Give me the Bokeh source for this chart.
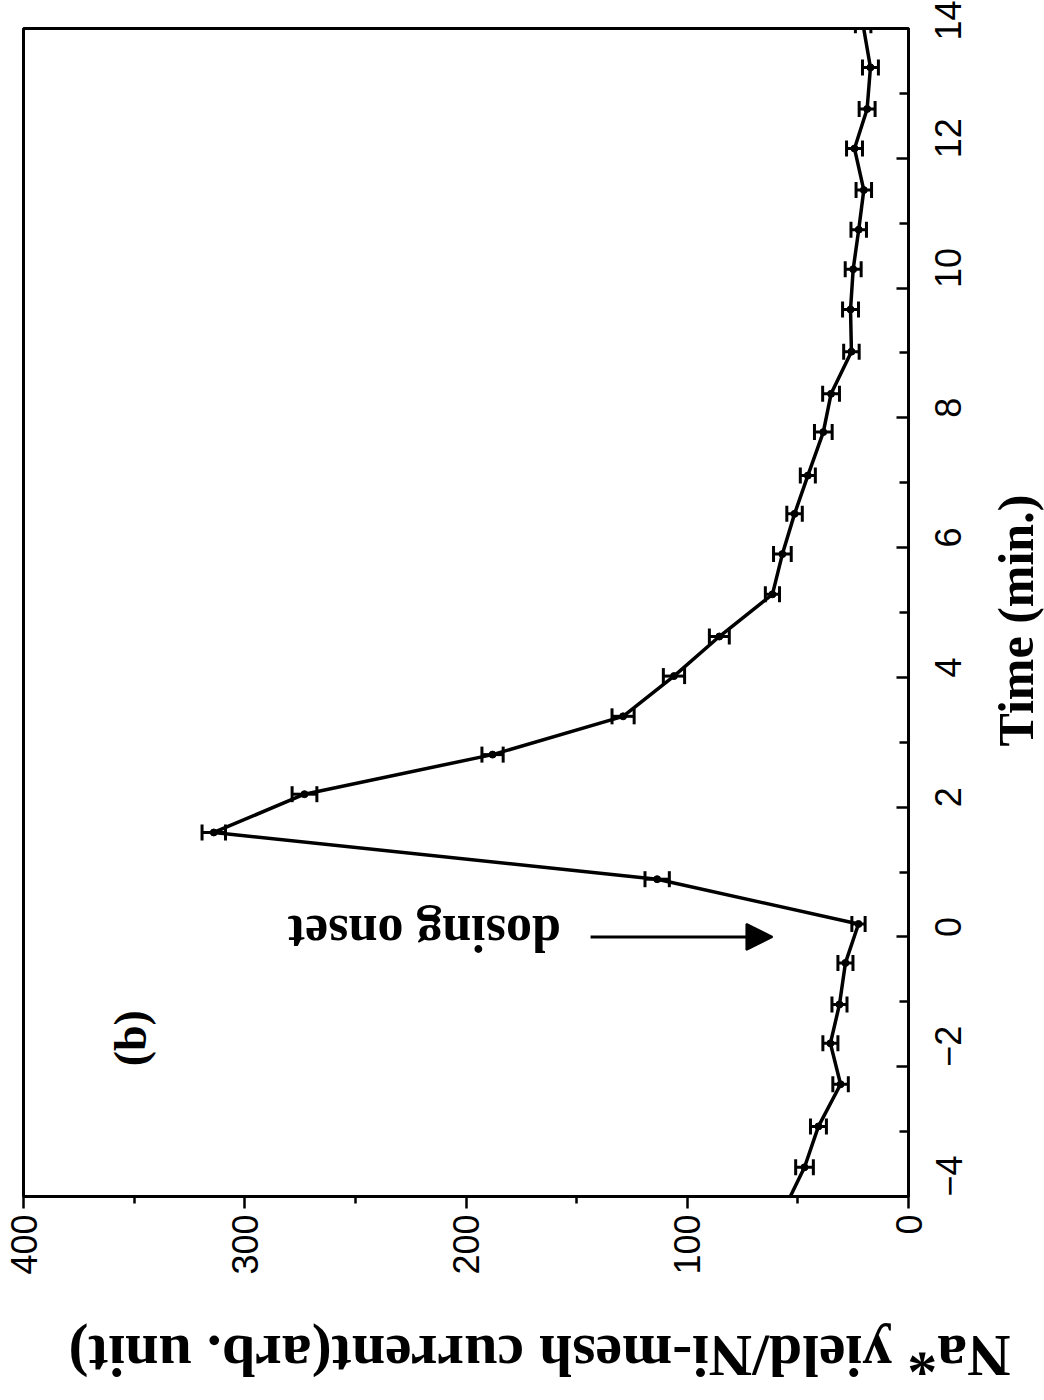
import math
from bokeh.plotting import figure
from bokeh.models import Range1d, FixedTicker, Label, Arrow, NormalHead, ColumnDataSource
from bokeh.embed import file_html
from bokeh.resources import INLINE

# ---- data ----
time_min = [-4.18, -3.55, -2.92, -2.27, -1.64, -1.04, -0.40, 0.20, 0.89, 1.61,
            2.20, 2.81, 3.40, 4.02, 4.63, 5.28, 5.90, 6.52, 7.11, 7.78,
            8.37, 9.02, 9.67, 10.29, 10.90, 11.51, 12.15, 12.76, 13.40, 14.05]
yield_vals = [56.0, 47.0, 40.7, 30.7, 35.3, 31.2, 28.5, 22.6, 113.6, 314.0,
              273.0, 188.0, 129.0, 106.0, 85.5, 61.5, 57.0, 51.5, 45.5, 38.5,
              35.0, 25.8, 26.2, 25.0, 22.5, 20.2, 24.4, 18.7, 17.2, 20.5]
yield_err = [3.0, 4.0, 3.6, 3.5, 3.4, 3.4, 3.4, 3.0, 5.5, 5.3,
             5.6, 4.8, 5.0, 4.8, 4.5, 3.2, 4.0, 3.5, 3.4, 4.0,
             3.8, 3.5, 3.6, 3.6, 3.5, 3.5, 3.6, 3.6, 3.6, 3.5]

value_ticks = [0, 100, 200, 300, 400]
value_minor = [50, 150, 250, 350]
time_ticks = [-4, -2, 0, 2, 4, 6, 8, 10, 12, 14]
time_minor = [-3, -1, 1, 3, 5, 7, 9, 11, 13]

x_title = "Na* yield/Ni-mesh current(arb. unit)"
y_title = "Time (min.)"

SERIF = "Liberation Serif"
SANS = "Liberation Sans"

lo = [v - e for v, e in zip(yield_vals, yield_err)]
hi = [v + e for v, e in zip(yield_vals, yield_err)]
src = ColumnDataSource(dict(t=time_min, v=yield_vals, lo=lo, hi=hi))

p = figure(frame_width=885, frame_height=1168,
           x_range=Range1d(400, 0), y_range=Range1d(-4, 14),
           y_axis_location="right",
           output_backend="svg", toolbar_location=None,
           min_border_left=23, min_border_top=28,
           min_border_right=128, min_border_bottom=196)

p.xgrid.visible = False
p.ygrid.visible = False
p.outline_line_color = "black"
p.outline_line_width = 3
p.background_fill_color = "white"
p.border_fill_color = "white"

# bottom (value) axis
xa = p.xaxis[0]
xa.ticker = FixedTicker(ticks=value_ticks, minor_ticks=value_minor)
xa.axis_line_width = 3
xa.major_tick_in = 0
xa.major_tick_out = 12
xa.minor_tick_in = 0
xa.minor_tick_out = 7
xa.major_tick_line_width = 2.5
xa.minor_tick_line_width = 2.5
xa.major_label_orientation = math.pi / 2
xa.major_label_text_font = SANS
xa.major_label_text_font_size = "36px"
xa.major_label_text_color = "black"
xa.major_label_standoff = 6

# right (time) axis
ya = p.yaxis[0]
ya.ticker = FixedTicker(ticks=time_ticks, minor_ticks=time_minor)
ya.axis_line_width = 3
ya.major_tick_in = 12
ya.major_tick_out = 0
ya.minor_tick_in = 9
ya.minor_tick_out = 0
ya.major_tick_line_width = 2.5
ya.minor_tick_line_width = 2.5
ya.major_label_orientation = math.pi / 2
ya.major_label_text_font = SANS
ya.major_label_text_font_size = "36px"
ya.major_label_text_color = "black"
ya.major_label_standoff = 40

# axis titles (upside-down bottom title, bottom-to-top right title)
xa.axis_label = x_title + "\u00a0" * 3
xa.axis_label_text_font = SERIF
xa.axis_label_text_font_style = "bold"
xa.axis_label_text_font_size = "60px"
xa.axis_label_text_color = "black"
xa.axis_label_standoff = 78
ya.axis_label = "\u00a0" * 36 + y_title
ya.axis_label_text_font = SERIF
ya.axis_label_text_font_style = "bold"
ya.axis_label_text_font_size = "50px"
ya.axis_label_text_color = "black"
ya.axis_label_standoff = 38
try:
    xa.axis_label_orientation = math.pi
    ya.axis_label_orientation = math.pi / 2
    xa.axis_label_align = "end"
    ya.axis_label_align = "start"
except Exception:
    pass

# data line
p.line("v", "t", source=src, line_color="black", line_width=3.5)
# error bars
p.segment(x0="lo", y0="t", x1="hi", y1="t", source=src, line_color="black", line_width=3)
p.scatter("lo", "t", source=src, marker="dash", angle=math.pi / 2, size=16,
          line_color="black", line_width=3)
p.scatter("hi", "t", source=src, marker="dash", angle=math.pi / 2, size=16,
          line_color="black", line_width=3)
p.scatter("v", "t", source=src, marker="circle", size=7, color="black")

# annotations
p.add_layout(Arrow(end=NormalHead(size=26, fill_color="black", line_color="black", line_width=2),
                   x_start=143.7, y_start=0, x_end=61.5, y_end=0,
                   line_color="black", line_width=3))
p.add_layout(Label(x=218.8, y=0.05, text="dosing onset", angle=math.pi,
                   text_font=SERIF, text_font_style="bold", text_font_size="52px",
                   text_align="center", text_baseline="middle", text_color="black"))
p.add_layout(Label(x=351.6, y=-1.56, text="(b)", angle=math.pi / 2,
                   text_font=SERIF, text_font_style="bold", text_font_size="46px",
                   text_align="center", text_baseline="middle", text_color="black"))

open("out.html", "w").write(file_html(p, INLINE))
